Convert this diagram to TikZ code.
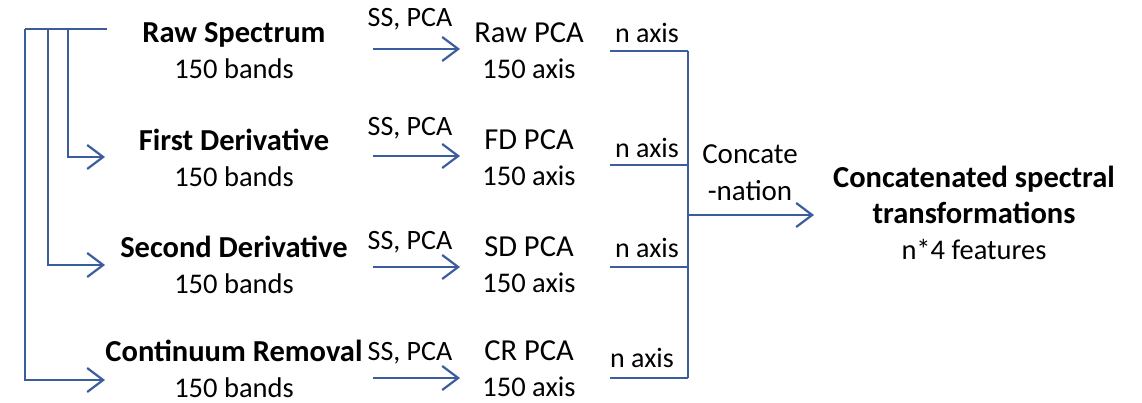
\documentclass[tikz,border=0pt]{standalone}
\usepackage{fontspec}
\setmainfont{Carlito}
\usetikzlibrary{arrows.meta}
\definecolor{lineblue}{RGB}{59,93,158}
\newcommand{\bt}[1]{{\fontsize{30.5}{36}\selectfont\bfseries #1}}
\newcommand{\pt}[1]{{\fontsize{30.5}{36}\selectfont #1}}
\tikzset{
  conn/.style={draw=lineblue, line width=2.2pt},
  arr/.style={conn, -{Straight Barb[length=16pt,width=24pt,line width=2.2pt]}},
  txt/.style={inner sep=0pt, align=center, font=\fontsize{28.5}{36}\selectfont},
  lbl/.style={inner sep=0pt, font=\fontsize{28}{30}\selectfont},
}
\begin{document}
\begin{tikzpicture}[x=1pt,y=-1pt]
\useasboundingbox (0,0) rectangle (1142,403);
% spectra
\node[txt] (rs) at (234,51) {\bt{Raw Spectrum}\\150 bands};
\node[txt] (fd) at (234,158) {\bt{First Derivative}\\150 bands};
\node[txt] (sd) at (234,265) {\bt{Second Derivative}\\150 bands};
\node[txt] (cr) at (234,369) {\bt{Continuum Removal}\\150 bands};
% PCA
\node[txt] (rp) at (529,51) {\pt{Raw PCA}\\150 axis};
\node[txt] (fp) at (529,158) {\pt{FD PCA}\\150 axis};
\node[txt] (sp) at (529,265) {\pt{SD PCA}\\150 axis};
\node[txt] (cp) at (529,369) {\pt{CR PCA}\\150 axis};
% SS, PCA labels
\node[lbl] (l1) at (410,19) {SS, PCA};
\node[lbl] (l2) at (410,128) {SS, PCA};
\node[lbl] (l3) at (410,242) {SS, PCA};
\node[lbl] (l4) at (410,353) {SS, PCA};
% n axis labels
\node[lbl] (n1) at (647,33) {n axis};
\node[lbl] (n2) at (647,148) {n axis};
\node[lbl] (n3) at (647,248) {n axis};
\node[lbl] (n4) at (642,358) {n axis};
% concatenation
\node[txt, font=\fontsize{29}{37}\selectfont] (cc) at (750,173) {Concate\\-nation};
\node[txt] (out) at (974,213) {\bt{Concatenated spectral}\\\bt{transformations}\\n*4 features};
% coordinates
\coordinate (src) at (107,29);
\coordinate (b1) at (68,29);
\coordinate (b2) at (48,29);
\coordinate (b3) at (25,29);
\coordinate (t1) at (105,157);
\coordinate (t2) at (105,265);
\coordinate (t3) at (105,380);
\foreach \i/\y in {1/49,2/156,3/267,4/378}{
  \coordinate (s\i) at (373,\y);
  \coordinate (e\i) at (460,\y);
}
\foreach \i/\y in {1/51,2/165,3/267,4/378}{
  \coordinate (o\i) at (610,\y);
  \coordinate (j\i) at (688,\y);
}
\coordinate (jm) at (688,215);
\coordinate (oe) at (814,215);
% left bracket
\draw[conn] (src) -- (b3);
\draw[arr] (b1) |- (t1);
\draw[arr] (b2) |- (t2);
\draw[arr] (b3) |- (t3);
% SS, PCA arrows
\foreach \i in {1,...,4}{
  \draw[arr] (s\i) -- (e\i);
  \draw[conn] (o\i) -- (j\i);
}
\draw[conn] (j1) -- (j4);
\draw[arr] (jm) -- (oe);
\end{tikzpicture}
\end{document}
